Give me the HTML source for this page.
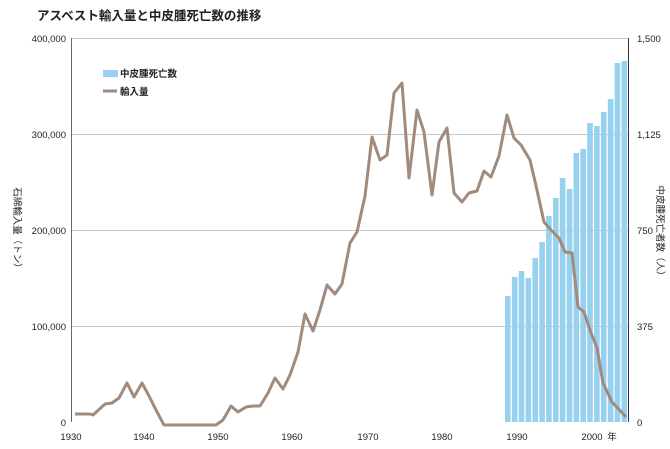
<!DOCTYPE html>
<html><head><meta charset="utf-8"><style>
html,body{margin:0;padding:0;background:#fff;}
svg{display:block;font-family:"Liberation Sans","Noto Sans CJK JP",sans-serif;}
</style></head><body>
<svg width="670" height="449" viewBox="0 0 670 449" xmlns="http://www.w3.org/2000/svg">
<text x="37" y="20" font-size="12.5" font-weight="bold" fill="#222">アスベスト輸入量と中皮腫死亡数の推移</text>
<g stroke="#c8c8c8" stroke-width="1">
<line x1="71" y1="38.5" x2="628" y2="38.5"/>
<line x1="71" y1="134.5" x2="628" y2="134.5"/>
<line x1="71" y1="230.5" x2="628" y2="230.5"/>
<line x1="71" y1="326.5" x2="628" y2="326.5"/>
</g>
<g fill="#96d2f0">
<rect x="505" y="296" width="5.6" height="126"/>
<rect x="511.9" y="277" width="5.6" height="145"/>
<rect x="518.7" y="271" width="5.6" height="151"/>
<rect x="525.6" y="278" width="5.6" height="144"/>
<rect x="532.4" y="258" width="5.6" height="164"/>
<rect x="539.3" y="242" width="5.6" height="180"/>
<rect x="546.1" y="216" width="5.6" height="206"/>
<rect x="553" y="198" width="5.6" height="224"/>
<rect x="559.8" y="178" width="5.6" height="244"/>
<rect x="566.7" y="189" width="5.6" height="233"/>
<rect x="573.5" y="153" width="5.6" height="269"/>
<rect x="580.4" y="149" width="5.6" height="273"/>
<rect x="587.2" y="123" width="5.6" height="299"/>
<rect x="594.1" y="126" width="5.6" height="296"/>
<rect x="600.9" y="112" width="5.6" height="310"/>
<rect x="607.8" y="99" width="5.6" height="323"/>
<rect x="614.6" y="63" width="5.6" height="359"/>
<rect x="621.5" y="61" width="5.6" height="361"/>
</g>
<polyline fill="none" stroke="#a08b7c" stroke-width="3" stroke-linejoin="round" points="
75,414 90,414 93,415 105,404 112,403 119,398 127,383 134,397 142,383 149,396 156,410 164,425 171,425 178,425 186,425 193,425 201,425 208,425 216,425 223,420 231,406 238,412 246,407 253,406 260,406 268,393 275,378 283,389 290,375 298,352 305,314 313,331 320,310 327,285 335,294 342,284 350,243 357,232 365,196 372,137 380,160 387,155 394,93 402,83 409,178 417,110 424,132 432,195 439,142 447,128 454,193 462,202 469,193 477,191 484,171 491,177 499,156 507,115 514,138 521,145 530,160 537,190 544,222 551,230 559,238 565,252 572,253 578,307 584,312 590,330 597,348 603,383 612,402 626,417"/>
<line x1="71.5" y1="38" x2="71.5" y2="422" stroke="#666" stroke-width="1"/>
<line x1="628.5" y1="38" x2="628.5" y2="422" stroke="#333" stroke-width="1"/>
<g font-size="9.5" fill="#222" text-anchor="end">
<text x="66" y="42">400,000</text>
<text x="66" y="138">300,000</text>
<text x="66" y="234">200,000</text>
<text x="66" y="330">100,000</text>
<text x="66" y="426">0</text>
</g>
<g font-size="9.5" fill="#222">
<text x="637" y="42">1,500</text>
<text x="637" y="138">1,125</text>
<text x="637" y="234">750</text>
<text x="637" y="330">375</text>
<text x="637" y="426">0</text>
</g>
<g font-size="9.5" fill="#222" text-anchor="middle">
<text x="71" y="440">1930</text>
<text x="144" y="440">1940</text>
<text x="218" y="440">1950</text>
<text x="292" y="440">1960</text>
<text x="368" y="440">1970</text>
<text x="442" y="440">1980</text>
<text x="517" y="440">1990</text>
<text x="592" y="440">2000</text>
<text x="612" y="440">年</text>
</g>
<text font-size="9.5" fill="#222" transform="translate(14,230) rotate(90)" text-anchor="middle">石綿輸入量（トン）</text>
<text font-size="9.5" fill="#222" transform="translate(657,233) rotate(90)" text-anchor="middle">中皮腫死亡者数（人）</text>
<rect x="103" y="70" width="15" height="7" fill="#96d2f0"/>
<text x="120" y="77" font-size="9.5" font-weight="bold" fill="#222">中皮腫死亡数</text>
<line x1="103" y1="91" x2="117" y2="91" stroke="#a08b7c" stroke-width="3"/>
<text x="120" y="95" font-size="9.5" font-weight="bold" fill="#222">輸入量</text>
</svg>
</body></html>
